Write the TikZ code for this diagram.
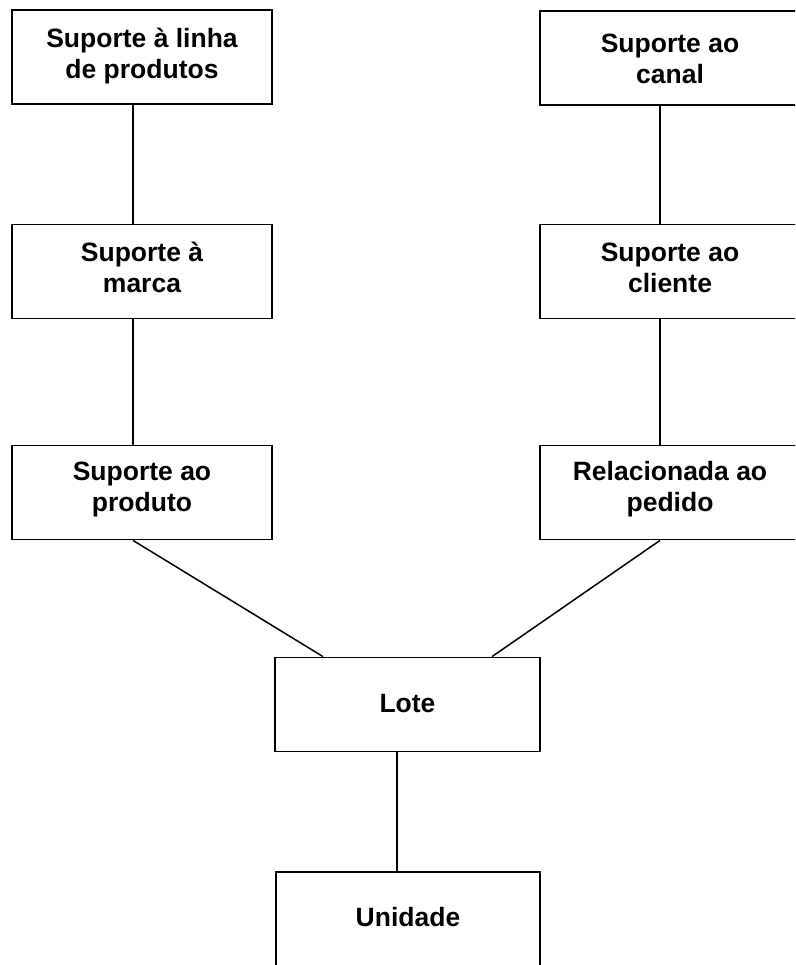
\documentclass[tikz,border=0pt]{standalone}
\usepackage{fontspec}
\setmainfont{Liberation Sans}
\begin{document}
\begin{tikzpicture}[x=1pt,y=-1pt,
  box/.style={draw=black, line width=1.8pt, minimum width=260pt, minimum height=94pt,
    inner sep=0pt},
  txt/.style={inner sep=0pt, align=center, font=\bfseries\fontsize{26.5}{31}\selectfont},
  link/.style={draw=black, line width=1.5pt}]
\useasboundingbox (0,0) rectangle (795,965);
\clip (0,0) rectangle (795,965);
% left column
\node[box, label={[txt,yshift=1pt]center:{Suporte à linha\\de produtos}}] (linha) at (142,57) {};
\node[box, label={[txt,yshift=4pt]center:{Suporte à\\marca}}] (marca) at (142,271.5) {};
\node[box, label={[txt,yshift=3pt]center:{Suporte ao\\produto}}] (produto) at (142,492.5) {};
% right column (runs past the right edge)
\node[box, label={[txt,yshift=-1pt]center:{Suporte ao\\canal}}] (canal) at (670,58) {};
\node[box, label={[txt,yshift=4pt]center:{Suporte ao\\cliente}}] (cliente) at (670,271.5) {};
\node[box, label={[txt,yshift=3pt]center:{Relacionada ao\\pedido}}] (pedido) at (670,492.5) {};
% centre
\node[box, minimum width=265pt, label={[txt,yshift=1pt]center:Lote}] (lote) at (407.5,704.5) {};
\node[box, minimum width=264pt, minimum height=96pt, label={[txt,yshift=3pt]center:Unidade}] (unidade) at (408,920) {};
% connectors
\draw[link] ([xshift=-9pt]linha.south) -- ([xshift=-9pt]marca.north);
\draw[link] ([xshift=-9pt]marca.south) -- ([xshift=-9pt]produto.north);
\draw[link] ([xshift=-10pt]canal.south) -- ([xshift=-10pt]cliente.north);
\draw[link] ([xshift=-10pt]cliente.south) -- ([xshift=-10pt]pedido.north);
\draw[link] ([xshift=-9pt]produto.south) -- ([xshift=-84.5pt]lote.north);
\draw[link] ([xshift=-10pt]pedido.south) -- ([xshift=84.5pt]lote.north);
\draw[link] ([xshift=-10.5pt]lote.south) -- ([xshift=-11pt]unidade.north);
\end{tikzpicture}
\end{document}
